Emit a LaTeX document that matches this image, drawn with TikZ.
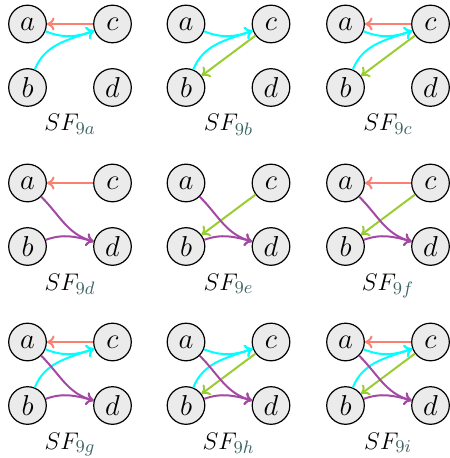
\documentclass[tikz,border=0pt]{standalone}
\usetikzlibrary{arrows.meta}
\definecolor{cRed}{RGB}{250,128,114}
\definecolor{cCyan}{RGB}{0,255,255}
\definecolor{cGreen}{RGB}{154,205,50}
\definecolor{cPurple}{RGB}{163,73,164}
\definecolor{cSub}{RGB}{60,100,100}
\definecolor{cFill}{RGB}{235,235,235}
\newcommand\sfpanel[4]{%
  \node[vtx] (#1a) at (#2+27.5,-#3-24) {$a$};
  \node[vtx] (#1c) at (#2+112.5,-#3-24) {$c$};
  \node[vtx] (#1b) at (#2+27.5,-#3-87.5) {$b$};
  \node[vtx] (#1d) at (#2+112.5,-#3-87.5) {$d$};
  \node[lab] (#1l) at (#2+70,-#3-131) {$SF_{\textcolor{cSub}{9#4}}$};
}
\newcommand\edgeRed[1]{\draw[edgest,cRed] (#1c) -- (#1a);}
\newcommand\edgeCyan[1]{\draw[edgest,cCyan] (#1a) to[out=-22,in=200] (#1c);
  \draw[edgest,cCyan] (#1b) to[out=68,in=200] (#1c);}
\newcommand\edgeGreen[1]{\draw[edgest,cGreen] (#1c) -- (#1b);}
\newcommand\edgePurple[1]{\draw[edgest,cPurple] (#1a) to[out=-45,in=165] (#1d);
  \draw[edgest,cPurple] (#1b) to[out=20,in=165] (#1d);}
\begin{document}
\begin{tikzpicture}[x=0.5pt,y=0.5pt,
  vtx/.style={circle,draw,line width=0.6pt,fill=cFill,minimum size=18.8pt,inner sep=0pt,font=\fontsize{14.5}{17}\selectfont},
  lab/.style={anchor=base,inner sep=0pt,font=\fontsize{13}{15}\selectfont},
  edgest/.style={line width=1pt,-{To[length=3.8pt,width=6.5pt]}}]
\useasboundingbox (0,0) rectangle (449,-458);
\sfpanel{pa}{0}{0}{a}
\sfpanel{pb}{158.5}{0}{b}
\sfpanel{pc}{318}{0}{c}
\sfpanel{pd}{0}{159}{d}
\sfpanel{pe}{158.5}{159}{e}
\sfpanel{pf}{318}{159}{f}
\sfpanel{pg}{0}{318}{g}
\sfpanel{ph}{158.5}{318}{h}
\sfpanel{pi}{318}{318}{i}
\edgeRed{pa}\edgeCyan{pa}
\edgeCyan{pb}\edgeGreen{pb}
\edgeRed{pc}\edgeCyan{pc}\edgeGreen{pc}
\edgeRed{pd}\edgePurple{pd}
\edgeGreen{pe}\edgePurple{pe}
\edgeRed{pf}\edgeGreen{pf}\edgePurple{pf}
\edgeRed{pg}\edgeCyan{pg}\edgePurple{pg}
\edgeCyan{ph}\edgeGreen{ph}\edgePurple{ph}
\edgeRed{pi}\edgeCyan{pi}\edgeGreen{pi}\edgePurple{pi}
\end{tikzpicture}
\end{document}
